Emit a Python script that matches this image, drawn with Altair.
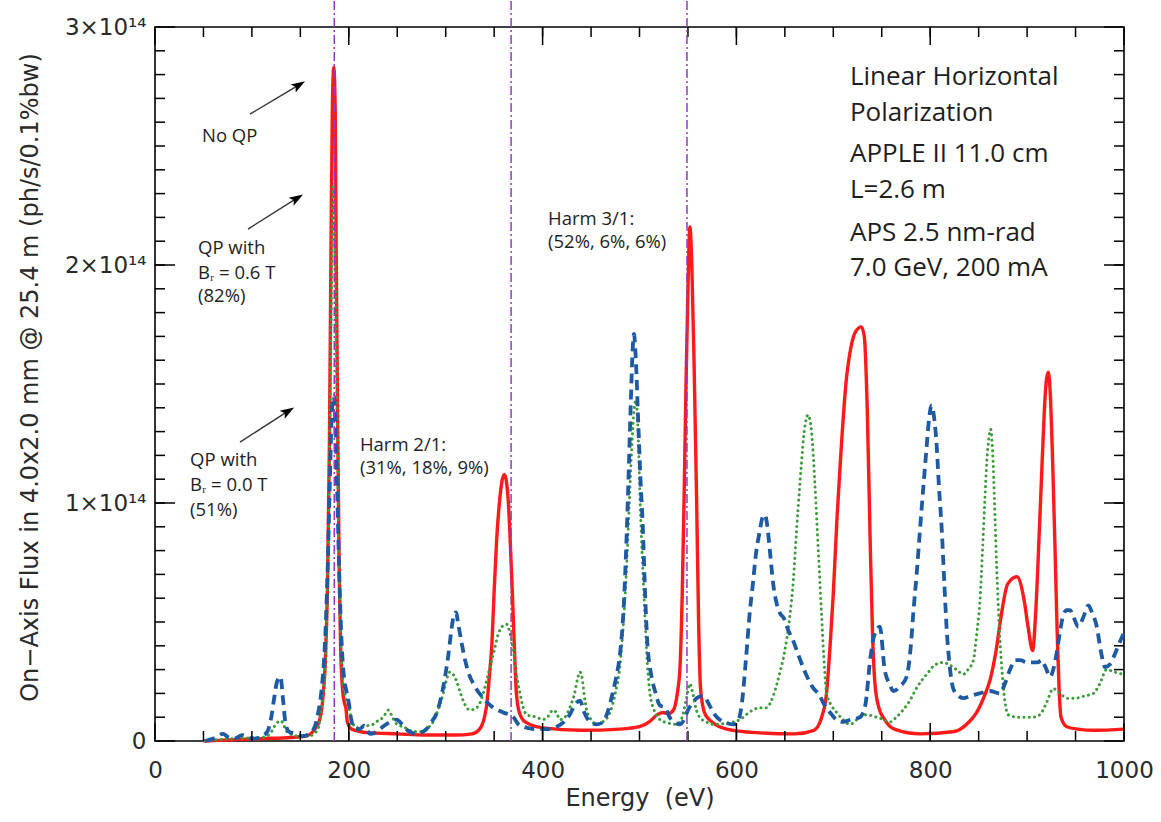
import altair as alt
import pandas as pd

E14 = 1e14

# ---------------- data (energy in eV, flux in units of 1e14 ph/s/0.1%bw) ----------------
red_points = [  # No QP
    (50, 0.0), (80, 0.005), (110, 0.01), (140, 0.015), (155, 0.02), (165, 0.05), (170, 0.09),
    (173, 0.17), (176, 0.36), (178, 0.65), (180, 1.25), (181.5, 2.0), (183, 2.65), (184.5, 2.83),
    (186, 2.65), (187, 2.05), (188.5, 1.35), (190, 0.75), (191.5, 0.4), (193.5, 0.22),
    (195.5, 0.16), (197, 0.14), (198.5, 0.08), (203, 0.05), (220, 0.035), (250, 0.03),
    (280, 0.025), (310, 0.025), (327, 0.03), (335, 0.05), (340, 0.1), (342.6, 0.16), (345, 0.27),
    (347.7, 0.41), (350, 0.63), (352.5, 0.84), (355.4, 1.0), (358, 1.09), (360.6, 1.12),
    (363, 1.08), (365, 0.98), (367, 0.8), (369, 0.6), (371, 0.38), (373, 0.2), (376, 0.12),
    (382, 0.08), (400, 0.055), (440, 0.045), (480, 0.05), (500, 0.06), (510, 0.08), (518, 0.11),
    (524, 0.12), (530, 0.115), (535, 0.13), (539, 0.2), (541.8, 0.31), (544, 0.6), (546, 1.02),
    (548, 1.5), (550, 1.9), (552, 2.16), (554, 2.0), (556.5, 1.55), (559, 1.0), (561, 0.5),
    (563, 0.22), (567, 0.12), (572, 0.09), (590, 0.05), (620, 0.035), (660, 0.03), (680, 0.045),
    (688, 0.1), (693, 0.2), (697, 0.42), (700, 0.62), (704, 0.95), (708, 1.22), (713, 1.5),
    (718, 1.65), (723, 1.72), (729, 1.74), (732, 1.7), (735, 1.4), (738, 0.85), (740.5, 0.45),
    (743, 0.24), (747, 0.14), (753, 0.09), (763, 0.05), (790, 0.03), (825, 0.04), (840, 0.08),
    (848, 0.12), (855, 0.18), (862, 0.26), (868, 0.38), (873, 0.52), (880, 0.66), (889.5, 0.69),
    (897, 0.59), (901, 0.48), (905.7, 0.38), (909, 0.55), (912.6, 0.88), (915, 1.12),
    (917.7, 1.38), (920, 1.52), (922, 1.55), (924, 1.45), (926.4, 1.17), (929, 0.78), (931, 0.46),
    (933, 0.22), (935, 0.1), (941, 0.06), (952, 0.05), (970, 0.045), (1000, 0.05),
]

blue_points = [  # QP with Br = 0.0 T
    (52, 0.0), (60, 0.01), (70, 0.03), (76, 0.015), (82, 0.01), (90, 0.025), (96, 0.015),
    (102, 0.01), (110, 0.02), (116, 0.04), (120, 0.1), (123, 0.18), (126, 0.25), (129.5, 0.27),
    (132, 0.18), (134.5, 0.08), (138, 0.04), (145, 0.03), (152, 0.02), (162, 0.04), (168, 0.11),
    (172, 0.22), (175, 0.38), (178, 0.7), (180.5, 1.1), (182.5, 1.38), (184.5, 1.45), (186, 1.35),
    (188, 1.05), (190.5, 0.65), (193, 0.38), (195, 0.27), (197.5, 0.21), (200, 0.16), (203, 0.08),
    (207, 0.05), (211, 0.05), (216, 0.065), (222, 0.03), (227, 0.035), (232, 0.05),
    (242.5, 0.08), (249.4, 0.09), (255, 0.07), (262, 0.04), (270, 0.03), (280, 0.05), (287, 0.09),
    (291, 0.12), (295, 0.18), (298.5, 0.25), (302.7, 0.36), (306, 0.47), (308.5, 0.53),
    (310.6, 0.54), (313, 0.49), (316.5, 0.41), (320, 0.34), (323.3, 0.29), (330, 0.23),
    (338.8, 0.18), (349, 0.14), (359.4, 0.12), (369.8, 0.1), (375, 0.07), (380, 0.06), (394, 0.05),
    (405, 0.05), (414.6, 0.06), (422, 0.08), (428, 0.11), (433, 0.15), (438.6, 0.17), (443, 0.12),
    (449, 0.08), (456, 0.07), (462.6, 0.08), (467, 0.12), (471, 0.18), (476, 0.27), (480, 0.37),
    (483.5, 0.55), (486.8, 0.87), (489, 1.15), (491, 1.42), (493, 1.65), (494.3, 1.71),
    (496, 1.62), (498.8, 1.33), (501, 1.1), (503.3, 0.91), (505.5, 0.65), (508, 0.42), (512, 0.28),
    (516, 0.21), (521, 0.15), (526.6, 0.14), (531, 0.1), (536, 0.08), (541.8, 0.07), (546, 0.09),
    (550, 0.13), (555, 0.16), (559, 0.18), (565.8, 0.19), (571, 0.16), (576, 0.12), (586.5, 0.08),
    (596.8, 0.07), (601, 0.08), (605.4, 0.15), (610, 0.35), (614, 0.55), (617, 0.66), (620, 0.78),
    (624, 0.88), (627, 0.94), (629.5, 0.95), (632, 0.9), (635, 0.78), (638, 0.66), (642, 0.57),
    (646, 0.53), (648.4, 0.52), (653, 0.47), (658.7, 0.42), (665, 0.35), (670.8, 0.29),
    (678, 0.23), (686, 0.19), (691, 0.15), (696.6, 0.12), (703, 0.09), (710, 0.08), (718, 0.09),
    (727.5, 0.1), (733, 0.15), (738, 0.34), (742, 0.44), (748, 0.48), (753, 0.3), (758, 0.24),
    (762, 0.21), (769, 0.23), (775.7, 0.27), (780, 0.4), (782.6, 0.54), (786, 0.7), (789.5, 0.89),
    (793, 1.07), (796.4, 1.24), (799, 1.36), (801.5, 1.41), (804, 1.36), (806.7, 1.24),
    (809, 1.07), (811.9, 0.89), (814.5, 0.67), (817, 0.47), (820, 0.32), (823.8, 0.22),
    (829, 0.19), (834, 0.18), (842, 0.19), (851, 0.2), (861.7, 0.21), (872, 0.2), (877, 0.24),
    (882.4, 0.3), (888, 0.34), (892.7, 0.34), (900, 0.33), (906.4, 0.33), (911, 0.33), (915, 0.34),
    (919, 0.31), (923.8, 0.27), (927, 0.3), (930.5, 0.37), (934, 0.46), (937.4, 0.53), (941, 0.55),
    (944.3, 0.55), (948, 0.52), (952.9, 0.48), (958, 0.52), (963.2, 0.57), (967, 0.54),
    (971.9, 0.48), (976, 0.38), (980.5, 0.31), (985, 0.32), (989, 0.35), (994, 0.4), (999.3, 0.45),
]

green_points = [  # QP with Br = 0.6 T
    (52, 0.0), (80, 0.01), (110, 0.015), (118.7, 0.03), (123, 0.06), (127, 0.08), (130, 0.085),
    (132.4, 0.07), (136, 0.04), (139, 0.03), (150, 0.02), (158, 0.02), (164, 0.03), (169, 0.06),
    (172, 0.15), (176, 0.34), (178.5, 0.75), (180.5, 1.35), (182.5, 2.0), (184, 2.33),
    (185.5, 2.1), (187.5, 1.5), (189.5, 0.85), (191.5, 0.45), (194, 0.25), (197, 0.18), (200, 0.14),
    (203, 0.09), (206, 0.06), (210, 0.055), (215, 0.06), (220, 0.065), (225, 0.07), (230, 0.085),
    (235.6, 0.1), (240.8, 0.13), (244, 0.11), (247.7, 0.08), (252, 0.065), (256, 0.06),
    (266.6, 0.04), (277, 0.04), (283, 0.06), (287, 0.08), (292, 0.13), (297.5, 0.2), (301, 0.26),
    (304.4, 0.29), (307.5, 0.28), (311.4, 0.25), (314.5, 0.21), (318, 0.17), (325, 0.13),
    (332, 0.14), (338.8, 0.2), (342, 0.25), (345.7, 0.31), (350, 0.38), (354.3, 0.45), (358, 0.48),
    (363, 0.49), (366.5, 0.45), (369.8, 0.38), (373, 0.28), (376.7, 0.2), (380, 0.14),
    (383.6, 0.11), (394, 0.1), (400, 0.09), (405, 0.1), (410.8, 0.13), (414, 0.12), (418, 0.09),
    (423, 0.1), (428, 0.14), (433, 0.2), (436, 0.26), (438.6, 0.29), (441, 0.26), (443, 0.19),
    (445.5, 0.13), (450, 0.09), (455.8, 0.07), (462, 0.08), (469.6, 0.12), (475, 0.2),
    (479.9, 0.32), (483.5, 0.5), (486.8, 0.74), (489.5, 1.0), (492, 1.23), (494, 1.37),
    (496.4, 1.43), (498.5, 1.3), (500.5, 1.02), (503, 0.76), (505.7, 0.52), (508, 0.33),
    (510.8, 0.2), (515, 0.13), (521, 0.09), (530, 0.075), (538.4, 0.07), (544, 0.1), (548, 0.17),
    (552, 0.24), (555, 0.2), (558, 0.14), (562, 0.1), (569, 0.08), (576, 0.07), (590, 0.075),
    (603.7, 0.09), (610, 0.11), (617, 0.13), (624, 0.14), (631, 0.14), (638, 0.19), (645, 0.29),
    (650, 0.38), (655, 0.52), (658.7, 0.67), (662, 0.88), (665, 1.05), (667, 1.16), (670, 1.3),
    (674, 1.37), (677.5, 1.3), (681, 1.08), (684.5, 0.8), (688, 0.52), (691, 0.3), (693, 0.2),
    (698, 0.15), (703.5, 0.12), (710, 0.09), (717, 0.07), (727.5, 0.1), (734, 0.11),
    (744.6, 0.1), (752, 0.09), (758.5, 0.08), (765, 0.1), (772, 0.13), (779, 0.17), (787, 0.23),
    (796.4, 0.28), (805, 0.32), (813.6, 0.33), (820, 0.32), (827, 0.3), (834, 0.28), (839, 0.3),
    (844.6, 0.34), (848, 0.45), (851.4, 0.59), (854, 0.8), (856.5, 1.02), (858.5, 1.18),
    (860, 1.25), (862.4, 1.31), (865, 1.16), (867, 0.92), (868.6, 0.73), (871, 0.5), (873.8, 0.31),
    (877, 0.17), (880.6, 0.11), (890, 0.1), (899.6, 0.1), (906, 0.1), (913, 0.11), (920, 0.16),
    (927, 0.22), (934, 0.2), (941, 0.18), (950, 0.18), (960, 0.19), (968.4, 0.2), (975, 0.24),
    (982, 0.3), (990, 0.29), (999, 0.28),
]

harmonic_energies = [185.0, 367.5, 549.0]

x_major = [0, 200, 400, 600, 800, 1000]
x_minor = list(range(50, 1000, 50))
y_major = [0, 1, 2, 3]
y_minor = [i / 10 for i in range(1, 30)]

# annotation texts (text, energy, flux/1e14 at baseline)
notes = [
    ("No QP", 48.5, 2.517),
    ("QP with", 44.4, 2.046),
    ("B\u1d63 = 0.6 T", 44.4, 1.943),
    ("(82%)", 44.4, 1.846),
    ("QP with", 36.2, 1.155),
    ("B\u1d63 = 0.0 T", 36.2, 1.052),
    ("(51%)", 36.2, 0.947),
    ("Harm 2/1:", 211.5, 1.218),
    ("(31%, 18%, 9%)", 211.5, 1.122),
    ("Harm 3/1:", 405.6, 2.168),
    ("(52%, 6%, 6%)", 405.6, 2.071),
]

info_lines = [
    ("Linear Horizontal", 717.2, 2.756),
    ("Polarization", 717.2, 2.605),
    ("APPLE II 11.0 cm", 717.2, 2.433),
    ("L=2.6 m", 717.2, 2.282),
    ("APS 2.5 nm-rad", 717.2, 2.099),
    ("7.0 GeV, 200 mA", 717.2, 1.952),
]

# arrows: tail (energy, flux) -> tip (energy, flux)
arrow_tail_e = [98.0, 96.0, 87.7]
arrow_tail_f = [2.634, 2.151, 1.256]
arrow_tip_e = [153.8, 151.7, 142.4]
arrow_tip_f = [2.769, 2.294, 1.399]

# ---------------- build ----------------
W, H = 969, 714
AXIS_FONT = "DejaVu Sans"
NOTE_FONT = "Open Sans"
TEXT_COLOR = "#1e1e1e"
AXIS_TEXT = "#2a2a2a"


def series_df(points):
    return pd.DataFrame({"energy": [p[0] for p in points], "flux": [p[1] * E14 for p in points]})


def text_df(items):
    return pd.DataFrame({"label": [t[0] for t in items], "energy": [t[1] for t in items],
                         "flux": [t[2] * E14 for t in items]})


red_df = series_df(red_points)
blue_df = series_df(blue_points)
green_df = series_df(green_points)

xs = alt.Scale(domain=[0, 1000], nice=False, zero=False)
ys = alt.Scale(domain=[0, 3 * E14], nice=False, zero=False)

y_major_v = [int(v * E14) for v in y_major]
y_minor_v = [int(round(v * 10)) * int(E14 / 10) for v in y_minor]

main_x_axis = alt.Axis(values=x_major, format="d", ticks=False, domain=False,
                       labelFont=AXIS_FONT, labelFontSize=23, labelColor=AXIS_TEXT, labelPadding=18,
                       labelFlush=False, labelOverlap=False, grid=False,
                       title="Energy\u00a0 (eV)", titleFont=AXIS_FONT, titleFontSize=24,
                       titleFontWeight="normal", titleColor=AXIS_TEXT, titleY=64,
                       titleBaseline="alphabetic")
main_y_axis = alt.Axis(values=y_major_v, ticks=False, domain=False,
                       labelFont=AXIS_FONT, labelFontSize=23, labelColor=AXIS_TEXT, labelPadding=9,
                       labelFlush=False, labelOverlap=False, grid=False,
                       labelExpr="datum.value == 0 ? '0' : format(datum.value / 1e14, 'd') + '\u00d710\u00b9\u2074'",
                       title="On\u2212Axis Flux in 4.0x2.0 mm @ 25.4 m (ph/s/0.1%bw)",
                       titleFont=AXIS_FONT, titleFontSize=24, titleFontWeight="normal",
                       titleColor=AXIS_TEXT, titleX=-118, titleY=350, titleBaseline="alphabetic",
                       titleAngle=270)


def line_layer(df, x_axis=None, y_axis=None, **mark):
    return alt.Chart(df).mark_line(interpolate="monotone", **mark).encode(
        x=alt.X("energy:Q", scale=xs, axis=x_axis),
        y=alt.Y("flux:Q", scale=ys, axis=y_axis),
    )


def x_ticks(values, y0, y1):
    return alt.Chart(pd.DataFrame({"v": values})).mark_rule(color="black", strokeWidth=1.5).encode(
        x=alt.X("v:Q", scale=xs, axis=None), y=alt.value(y0), y2=alt.value(y1))


def y_ticks(values, x0, x1):
    return alt.Chart(pd.DataFrame({"v": values})).mark_rule(color="black", strokeWidth=1.5).encode(
        y=alt.Y("v:Q", scale=ys, axis=None), x=alt.value(x0), x2=alt.value(x1))


layers = []
# spectra (first layer carries the labelled axes)
layers.append(line_layer(red_df, main_x_axis, main_y_axis, color="#ff1a1a", strokeWidth=3.4))
layers.append(line_layer(green_df, color="#3c9c3c", strokeWidth=3, strokeDash=[0.1, 5.2],
                         strokeCap="round"))
layers.append(line_layer(blue_df, color="#1d5aa3", strokeWidth=3.8, strokeDash=[10, 6]))

# inward ticks on all four sides
layers += [
    x_ticks(x_minor, H, H - 10), x_ticks(x_major, H, H - 18),
    x_ticks(x_minor, 0, 10), x_ticks(x_major, 0, 18),
    y_ticks(y_minor_v, 0, 10), y_ticks(y_major_v, 0, 20),
    y_ticks(y_minor_v, W, W - 10), y_ticks(y_major_v, W, W - 20),
]

# harmonic markers
harm_df = pd.DataFrame({"energy": harmonic_energies})
layers.append(alt.Chart(harm_df).mark_rule(color="#9b35c9", strokeWidth=1.5, strokeDash=[9, 3, 2, 3]).encode(
    x=alt.X("energy:Q", scale=xs, axis=None),
    y=alt.Y(datum=0, scale=ys, axis=None),
    y2=alt.datum(3.113 * E14),
))

# arrows
arr_df = pd.DataFrame({"e0": arrow_tail_e, "f0": [v * E14 for v in arrow_tail_f],
                       "e1": arrow_tip_e, "f1": [v * E14 for v in arrow_tip_f]})
arr_df["he"] = arr_df["e1"] - 0.1 * (arr_df["e1"] - arr_df["e0"])
arr_df["hf"] = arr_df["f1"] - 0.1 * (arr_df["f1"] - arr_df["f0"])
layers.append(alt.Chart(arr_df).mark_rule(color="#333333", strokeWidth=1.4).encode(
    x=alt.X("e0:Q", scale=xs, axis=None), y=alt.Y("f0:Q", scale=ys, axis=None),
    x2="he:Q", y2="hf:Q",
))
layers.append(alt.Chart(arr_df).mark_point(
    shape="M0,-1L0.62,0.85L0,0.45L-0.62,0.85Z", filled=True, color="black", opacity=1,
    size=230, angle=58, strokeWidth=0).encode(
    x=alt.X("he:Q", scale=xs, axis=None), y=alt.Y("hf:Q", scale=ys, axis=None),
))


def text_layer(items, **mark):
    return alt.Chart(text_df(items)).mark_text(align="left", baseline="alphabetic", color=TEXT_COLOR,
                                               **mark).encode(
        x=alt.X("energy:Q", scale=xs, axis=None),
        y=alt.Y("flux:Q", scale=ys, axis=None),
        text="label:N",
    )


layers.append(text_layer(notes, font=NOTE_FONT, fontSize=18.5))
layers.append(text_layer(info_lines, font=NOTE_FONT, fontSize=26))

chart = alt.layer(*layers).resolve_axis(x="independent", y="independent").properties(
    width=W, height=H,
    autosize=alt.AutoSizeParams(type="none"),
    padding={"left": 155, "top": 27, "right": 37, "bottom": 81},
    background="white",
).configure_view(stroke="black", strokeWidth=1.6)

chart.save("out.html", embed_options={"renderer": "svg", "actions": False})
